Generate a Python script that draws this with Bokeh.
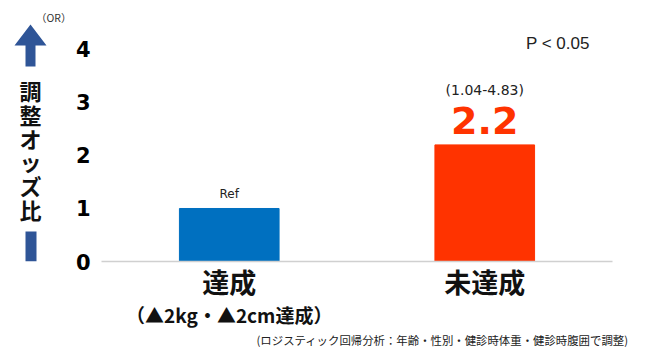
from bokeh.plotting import figure
from bokeh.layouts import row
from bokeh.models import (FactorRange, Range1d, FixedTicker, CategoricalAxis,
                          Title, ColumnDataSource, Label)
from bokeh.core.properties import value
from bokeh.embed import file_html
from bokeh.resources import INLINE

# ---- data ----
categories = ["達成", "未達成"]
odds_ratios = [1.0, 2.2]
top_labels = ["Ref", "2.2"]
ci_labels = ["", "(1.04-4.83)"]
bar_colors = ["#0070C0", "#FF3300"]
y_ticks = [0, 1, 2, 3, 4]
subtitles = ["（▲2kg・▲2cm達成）", " "]
footnote = "(ロジスティック回帰分析：年齢・性別・健診時体重・健診時腹囲で調整)"
p_text = "P < 0.05"
y_title = "調整オッズ比"
unit_text = "（OR）"

W, H = 650, 357
LW = 72                      # width of the left decoration strip
BL, BR, BT, BB = 26, 38, 0, 96
FW, FH = W - LW - BL - BR, H - BT - BB
Y_END = 4.9245

# ---------------- main chart ----------------
p = figure(width=W - LW, height=H, x_range=FactorRange(*categories, range_padding=0),
           y_range=Range1d(0, Y_END), output_backend="svg", toolbar_location=None,
           min_border_left=BL, min_border_right=BR, min_border_top=BT, min_border_bottom=BB)
p.outline_line_color = None
p.xgrid.grid_line_color = None
p.ygrid.grid_line_color = None
p.background_fill_color = "white"
p.border_fill_color = "white"

src = ColumnDataSource(dict(x=categories, top=odds_ratios, color=bar_colors,
                            lab=top_labels, ci=ci_labels))
p.vbar(x="x", top="top", width=0.39, color="color", source=src)

p.text(x="x", y="top", text="lab",
       source=ColumnDataSource(dict(x=categories[:1], top=odds_ratios[:1], lab=top_labels[:1])),
       text_font=value("DejaVu Sans"), text_font_size="12px", text_color="#222222",
       text_align="center", text_baseline="middle", y_offset=-14)
p.text(x="x", y="top", text="lab",
       source=ColumnDataSource(dict(x=categories[1:], top=odds_ratios[1:], lab=top_labels[1:])),
       text_font=value("DejaVu Sans"), text_font_style="bold", text_font_size="38px",
       text_color="#FF3300", text_align="center", text_baseline="middle", y_offset=-24)
p.text(x="x", y="top", text="ci", source=src,
       text_font=value("DejaVu Sans"), text_font_size="14px", text_color="#222222",
       text_align="center", text_baseline="middle", y_offset=-55)

# y axis
p.yaxis.ticker = FixedTicker(ticks=y_ticks)
p.yaxis.axis_line_color = None
p.yaxis.major_tick_line_color = None
p.yaxis.major_tick_out = 0
p.yaxis.minor_tick_line_color = None
p.yaxis.major_label_standoff = 11
p.yaxis.major_label_text_font = "DejaVu Sans"
p.yaxis.major_label_text_font_style = "bold"
p.yaxis.major_label_text_font_size = "21px"
p.yaxis.major_label_text_color = "#000000"

# x axis
p.xaxis.axis_line_color = "#D0D0D0"
p.xaxis.axis_line_width = 1.5
p.xaxis.major_tick_line_color = None
p.xaxis.major_tick_out = 0
p.xaxis.minor_tick_line_color = None
p.xaxis.major_label_standoff = 0
p.xaxis.major_label_text_font = "Noto Sans CJK JP"
p.xaxis.major_label_text_font_style = "bold"
p.xaxis.major_label_text_font_size = "27px"
p.xaxis.major_label_text_color = "#111111"

p.extra_x_ranges = {"sub": FactorRange(*subtitles, range_padding=0)}
sub_axis = CategoricalAxis(x_range_name="sub",
                           axis_line_color=None, major_tick_line_color=None, major_tick_out=0,
                           minor_tick_line_color=None, major_label_standoff=-3,
                           major_label_text_font="Noto Sans CJK JP",
                           major_label_text_font_style="bold",
                           major_label_text_font_size="19px", major_label_text_color="#111111")
p.add_layout(sub_axis, "below")

p.add_layout(Title(text=footnote, align="left", offset=155, standoff=-2,
                   text_font="Noto Sans CJK JP", text_font_style="normal",
                   text_font_size="11.4px", text_color="#222222"), "below")

p.add_layout(Label(x=1.661, y=4.113, text=p_text, text_font="Liberation Sans",
                   text_font_size="17px", text_color="#222222",
                   text_align="left", text_baseline="middle"))

# ---------------- left decoration strip (pixel coordinates, frame aligned with chart) ----------------
q = figure(width=LW, height=H, x_range=Range1d(0, LW), y_range=Range1d(FH, 0),
           output_backend="svg", toolbar_location=None, min_border=0,
           min_border_bottom=BB)
q.axis.visible = False
q.grid.visible = False
q.outline_line_color = None
q.background_fill_color = "white"
q.border_fill_color = "white"
arrow_x = [30, 46, 35, 35, 25, 25, 14]
arrow_y = [24, 45, 45, 66, 66, 45, 45]
q.patch(arrow_x, arrow_y, fill_color="#2F5597", line_color=None)
q.quad(left=[25], right=[36], top=[231], bottom=[261], fill_color="#2F5597", line_color=None)
q.text(x=[30], y=[149], text=["\n".join(y_title)], text_font=value("Noto Sans CJK JP"),
       text_font_style="bold", text_font_size="22px", text_color="#111111",
       text_line_height=0.74, text_align="center", text_baseline="middle")
q.text(x=[LW - 1], y=[17], text=[unit_text], text_font=value("Noto Sans CJK JP"),
       text_font_size="10.5px", text_color="#333333", text_align="right", text_baseline="middle")

layout = row(q, p, spacing=0)
open("out.html", "w").write(file_html(layout, INLINE))
